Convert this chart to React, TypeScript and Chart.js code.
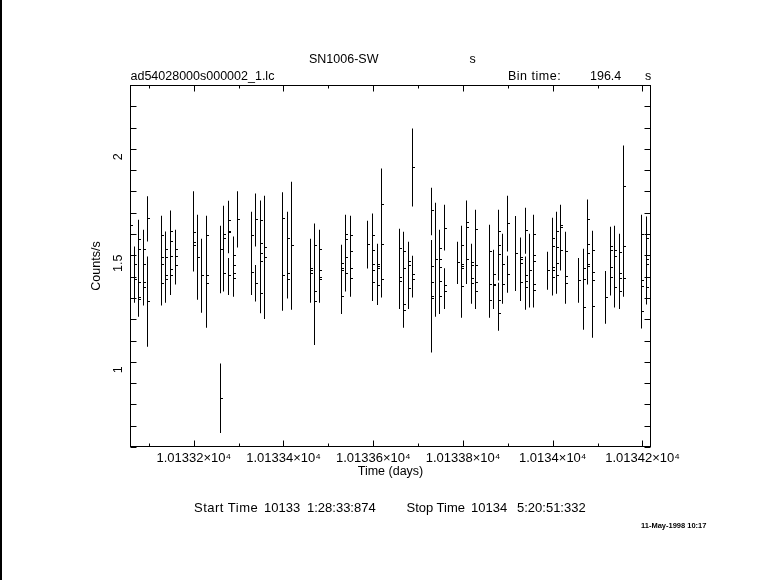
import React, { useEffect, useRef } from 'react';
import { Chart, registerables } from 'chart.js';

Chart.register(...registerables);

const FONT = "'Liberation Sans', Arial, 'DejaVu Sans', sans-serif";

// Time (days) of each group of overlapping 196.4 s bins
const clusterTimes: number[] = [
  10133.059, 10133.0687, 10133.0776, 10133.088, 10133.0976,
  10133.1273, 10133.1377, 10133.1488, 10133.1585,
  10133.2001, 10133.209, 10133.2179, 10133.2283,
  10133.2587, 10133.2669, 10133.278, 10133.2877, 10133.2981,
  10133.3285, 10133.3382, 10133.3486, 10133.3582,
  10133.3983, 10133.4094, 10133.4183,
  10133.4592, 10133.4688, 10133.4792,
  10133.5282, 10133.5379, 10133.5483,
  10133.5876, 10133.5987, 10133.6091, 10133.6195,
  10133.6589, 10133.6685, 10133.6782, 10133.6878,
  10133.7294, 10133.739, 10133.7487, 10133.7591,
  10133.788, 10133.7969, 10133.8081, 10133.8185, 10133.8289,
  10133.8586, 10133.869, 10133.8786, 10133.889, 10133.8994,
  10133.918, 10133.9284, 10133.9388, 10133.9484, 10133.9581,
  10133.9885, 10133.9989, 10134.0078, 10134.0182, 10134.0286,
  10134.0575, 10134.0679, 10134.0783, 10134.088,
  10134.1177, 10134.1281, 10134.1385, 10134.1489, 10134.1585,
  10134.1986, 10134.209,
];

// Lower ends of the error bars (counts/s)
const barLows: number[][] = [
  [1.63], [1.315], [1.249], [1.301], [1.602, 1.108],
  [1.301], [1.315], [1.351], [1.4],
  [1.461], [1.328], [1.268], [1.197],
  [1.359, 0.703], [1.367], [1.547, 1.351], [1.343], [1.574],
  [1.351], [1.579, 1.32], [1.265], [1.238],
  [1.277], [1.334], [1.281],
  [1.315], [1.116], [1.315],
  [1.262], [1.367], [1.343],
  [1.475], [1.323], [1.304], [1.339],
  [1.285], [1.197], [1.285], [1.767, 1.339],
  [1.631, 1.081], [1.249], [1.262], [1.56, 1.285],
  [1.403], [1.244], [1.403], [1.31], [1.285],
  [1.244], [1.285], [1.419, 1.183], [1.31], [1.555, 1.361],
  [1.37], [1.323], [1.544, 1.281], [1.292], [1.292],
  [1.375], [1.348], [1.357], [1.466], [1.31],
  [1.315], [1.188], [1.4], [1.15],
  [1.216], [1.348], [1.292], [1.285], [1.343],
  [1.193], [1.306],
];

// Upper ends of the error bars (counts/s)
const barHighs: number[][] = [
  [1.725], [1.579], [1.704], [1.657], [1.814, 1.532],
  [1.723], [1.649], [1.748], [1.657],
  [1.838], [1.728], [1.615], [1.723],
  [1.676, 1.029], [1.77], [1.794, 1.524], [1.626], [1.838],
  [1.742], [1.827, 1.492], [1.795], [1.817],
  [1.833], [1.742], [1.883],
  [1.615], [1.686], [1.657],
  [1.587], [1.728], [1.723],
  [1.7], [1.733], [1.591], [1.945],
  [1.662], [1.648], [1.601], [2.133, 1.535],
  [1.854, 1.609], [1.784], [1.657], [1.775, 1.477],
  [1.601], [1.676], [1.795], [1.591], [1.751],
  [1.681], [1.563], [1.751, 1.408], [1.638], [1.817, 1.535],
  [1.722], [1.621], [1.761, 1.532], [1.638], [1.728],
  [1.554], [1.714], [1.742], [1.775], [1.648],
  [1.525], [1.568], [1.799], [1.653],
  [1.464], [1.671], [1.676], [1.638], [2.053],
  [1.728], [1.719],
];

// Count rates of the bins in each group (counts/s)
const markRates: number[][] = [
  [1.676], [1.496, 1.422], [1.613, 1.566, 1.411, 1.339, 1.331], [1.563, 1.496, 1.411, 1.387], [1.708, 1.32],
  [1.632, 1.529, 1.496, 1.406], [1.563, 1.529, 1.441, 1.422], [1.648, 1.601, 1.532, 1.469, 1.441], [1.566, 1.532, 1.488],
  [1.646, 1.598, 1.585], [1.528], [1.441], [1.632, 1.441, 1.406],
  [1.563, 0.865], [1.637, 1.615, 1.453], [1.7, 1.648, 1.642, 1.441], [1.535, 1.491, 1.453, 1.43], [1.704],
  [1.632, 1.458], [1.704, 1.406], [1.7, 1.591, 1.547, 1.51, 1.359], [1.573, 1.529],
  [1.708, 1.441], [1.618, 1.453, 1.422], [1.582],
  [1.475, 1.466, 1.453], [1.585, 1.368, 1.318], [1.566, 1.466, 1.434, 1.425],
  [1.5, 1.475, 1.467, 1.343], [1.637, 1.613, 1.529, 1.453], [1.632, 1.557, 1.477, 1.43],
  [1.59], [1.632, 1.562, 1.496, 1.467, 1.411], [1.496, 1.485, 1.477, 1.394], [1.778, 1.59, 1.425],
  [1.571, 1.434, 1.414], [1.557, 1.474, 1.304, 1.279], [1.508, 1.488, 1.383], [1.948, 1.449, 1.425],
  [1.747, 1.486, 1.411, 1.343, 1.335], [1.517], [1.568, 1.519, 1.481, 1.416, 1.345], [1.665, 1.397, 1.367],
  [1.502], [1.585, 1.496, 1.483, 1.474, 1.392], [1.689, 1.67, 1.518], [1.505, 1.491, 1.43, 1.406], [1.66, 1.491, 1.411, 1.368],
  [1.555, 1.401, 1.326], [1.449, 1.401, 1.394], [1.651, 1.585, 1.543, 1.326, 1.265], [1.496, 1.401], [1.686, 1.448],
  [1.547], [1.529, 1.519, 1.5, 1.411], [1.653, 1.444, 1.416, 1.387], [1.465], [1.637, 1.538, 1.51, 1.401, 1.373],
  [1.467], [1.615, 1.58, 1.48, 1.467, 1.434], [1.651, 1.576, 1.5, 1.444], [1.676, 1.668, 1.559], [1.557, 1.439, 1.406],
  [1.42], [1.477, 1.425, 1.293], [1.704, 1.59, 1.547, 1.496, 1.486], [1.562, 1.458, 1.42, 1.298],
  [1.34], [1.58, 1.562, 1.481, 1.434], [1.562, 1.533, 1.387], [1.552, 1.453, 1.43, 1.368], [1.858, 1.58, 1.43],
  [1.637, 1.42, 1.392, 1.274], [1.615, 1.519, 1.496, 1.387],
];

const xMin = 10133.058;
const xMax = 10134.219;
const yMin = 0.637;
const yMax = 2.337;
const yTickLabels = [1, 1.5, 2];

// snap the library-computed element positions onto whole pixels so 1px lines stay crisp
const snapPlugin = {
  id: 'pgSnap',
  afterDatasetsUpdate(chart: any) {
    chart.getDatasetMeta(0).data.forEach((el: any) => {
      el.x = Math.round(el.x - 0.5) + 0.5;
    });
    chart.getDatasetMeta(1).data.forEach((el: any) => {
      el.x = Math.round(el.x - 0.5) + 1.5;
      el.y = Math.round(el.y - 0.5) + 0.5;
    });
  },
};

const framePlugin = {
  id: 'pgFrame',
  afterDraw(chart: any) {
    const { ctx, chartArea: a, scales } = chart;
    const x = scales.x;
    const y = scales.y;
    const L = Math.round(a.left) + 0.5;
    const R = Math.round(a.right) - 0.5;
    const T = Math.round(a.top) + 0.5;
    const B = Math.round(a.bottom) - 0.5;
    ctx.save();
    ctx.strokeStyle = '#000';
    ctx.lineWidth = 1;
    ctx.strokeRect(L, T, R - L, B - T);
    ctx.beginPath();
    x.ticks.forEach((t: any) => {
      const px = Math.round(x.getPixelForValue(t.value)) + 0.5;
      const major = Math.abs(t.value * 5 - Math.round(t.value * 5)) < 1e-6;
      const len = major ? 6 : 3;
      ctx.moveTo(px, B);
      ctx.lineTo(px, B - len);
      ctx.moveTo(px, T);
      ctx.lineTo(px, T + len);
    });
    y.ticks.forEach((t: any) => {
      const py = Math.round(y.getPixelForValue(t.value)) + 0.5;
      ctx.moveTo(L, py);
      ctx.lineTo(L + 6, py);
      ctx.moveTo(R, py);
      ctx.lineTo(R - 6, py);
    });
    ctx.stroke();
    ctx.fillStyle = '#000';
    ctx.font = `12.5px ${FONT}`;
    ctx.textAlign = 'center';
    ctx.textBaseline = 'alphabetic';
    yTickLabels.forEach((v) => {
      const py = y.getPixelForValue(v);
      ctx.save();
      ctx.translate(L - 8.5, py);
      ctx.rotate(-Math.PI / 2);
      ctx.fillText(String(v), 0, 0);
      ctx.restore();
    });
    ctx.restore();
  },
};

function formatX(v: number): string {
  const major = Math.abs(v * 5 - Math.round(v * 5)) < 1e-6;
  if (!major) return '';
  const m = parseFloat((v / 1e4).toFixed(6));
  return `${m}×10⁴`;
}

export default function App() {
  const ref = useRef<HTMLCanvasElement | null>(null);

  useEffect(() => {
    document.body.style.margin = '0';
    const segs: { x: number; y: [number, number] }[] = [];
    const marks: { x: number; y: number }[] = [];
    clusterTimes.forEach((t, i) => {
      barLows[i].forEach((lo, j) => segs.push({ x: t, y: [lo, barHighs[i][j]] }));
      markRates[i].forEach((r) => marks.push({ x: t, y: r }));
    });
    const chart = new Chart(ref.current as HTMLCanvasElement, {
      type: 'scatter',
      data: {
        datasets: [
          {
            type: 'bar',
            data: segs as any,
            backgroundColor: '#000',
            borderWidth: 0,
            barThickness: 1,
            inflateAmount: 0,
            grouped: false,
            order: 1,
          } as any,
          {
            type: 'scatter',
            data: marks,
            pointStyle: 'line',
            pointRadius: 1.5,
            borderColor: '#000',
            backgroundColor: '#000',
            borderWidth: 1,
            showLine: false,
            order: 0,
          } as any,
        ],
      },
      options: {
        animation: false,
        responsive: false,
        devicePixelRatio: 1,
        events: [],
        layout: { padding: { left: 0, right: 130, top: 85, bottom: 93 } },
        plugins: { legend: { display: false }, tooltip: { enabled: false } },
        scales: {
          x: {
            type: 'linear',
            min: xMin,
            max: xMax,
            offset: false,
            grid: { display: false, drawTicks: false },
            border: { display: false },
            ticks: {
              stepSize: 0.1,
              includeBounds: false,
              autoSkip: false,
              maxRotation: 0,
              minRotation: 0,
              padding: 4,
              color: '#000',
              font: { family: FONT, size: 13 },
              callback: (v: any) => formatX(Number(v)),
            },
            title: {
              display: true,
              text: 'Time (days)',
              color: '#000',
              font: { family: FONT, size: 12.5 },
              padding: { top: 0, bottom: 7.5 },
            },
            afterFit: (s: any) => {
              s.height = 40;
            },
          },
          y: {
            type: 'linear',
            min: yMin,
            max: yMax,
            beginAtZero: false,
            grid: { display: false, drawTicks: false },
            border: { display: false },
            ticks: { stepSize: 0.1, includeBounds: false, display: false },
            title: {
              display: true,
              text: 'Counts/s',
              color: '#000',
              font: { family: FONT, size: 12.5 },
              padding: { top: 89.5, bottom: 0 },
            },
            afterFit: (s: any) => {
              s.width = 130;
            },
          },
        },
      } as any,
      plugins: [snapPlugin, framePlugin],
    });
    return () => chart.destroy();
  }, []);

  const txt = (extra: React.CSSProperties): React.CSSProperties => ({
    position: 'absolute',
    fontFamily: FONT,
    fontSize: '12.5px',
    lineHeight: '12.5px',
    whiteSpace: 'pre',
    color: '#000',
    ...extra,
  });
  const low = (left: number, extra: React.CSSProperties = {}): React.CSSProperties =>
    txt({ left, top: 501, fontSize: '13px', lineHeight: '13px', ...extra });

  return (
    <div style={{ position: 'fixed', left: 0, top: 0, width: 781, height: 580, background: '#fff', overflow: 'hidden' }}>
      <canvas ref={ref} width={781} height={580} style={{ position: 'absolute', left: 0, top: 0, width: 781, height: 580 }} />
      <div style={{ position: 'absolute', left: 0, top: 0, width: 2, height: 580, background: '#000' }} />
      <span style={txt({ left: 309, top: 53 })}>SN1006-SW</span>
      <span style={txt({ left: 469.5, top: 53 })}>s</span>
      <span style={txt({ left: 130.5, top: 70 })}>ad54028000s000002_1.lc</span>
      <span style={txt({ left: 508, top: 70, letterSpacing: '0.5px' })}>Bin time:</span>
      <span style={txt({ left: 590, top: 70 })}>196.4</span>
      <span style={txt({ left: 645, top: 70 })}>s</span>
      <span style={low(194, { letterSpacing: '0.5px' })}>Start Time</span>
      <span style={low(264)}>10133</span>
      <span style={low(307)}>1:28:33:874</span>
      <span style={low(406.5)}>Stop Time</span>
      <span style={low(471)}>10134</span>
      <span style={low(517)}>5:20:51:332</span>
      <span style={txt({ left: 641, top: 521.7, fontSize: '7.5px', lineHeight: '7.5px', fontWeight: 'bold' })}>11-May-1998 10:17</span>
    </div>
  );
}
